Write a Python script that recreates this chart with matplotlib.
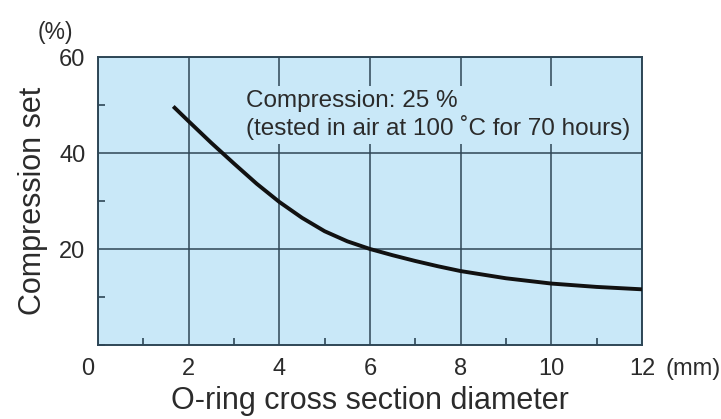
import matplotlib.pyplot as plt
from matplotlib.ticker import MultipleLocator
import matplotlib.transforms as mtransforms

# values
diameter = [1.66, 2.0, 2.5, 3.0, 3.5, 4.0, 4.5, 5.0, 5.5, 6.0, 6.5, 7.0, 7.5, 8.0, 9.0, 10.0, 11.0, 12.0]
comp_set = [49.7, 46.6, 42.1, 37.8, 33.6, 29.8, 26.5, 23.7, 21.6, 20.0, 18.7, 17.5, 16.4, 15.4, 13.9, 12.8, 12.1, 11.6]
x_ticks = [0, 2, 4, 6, 8, 10, 12]
y_ticks = [20, 40, 60]
note = "Compression: 25 %\n(tested in air at 100 \u02daC for 70 hours)"

bg = '#c9e8f8'
grid_col = '#2e4656'
txt_col = '#2b2b2b'
plt.rcParams['font.family'] = ['Liberation Sans', 'DejaVu Sans']

fig = plt.figure(figsize=(7.21, 4.19), dpi=100)
ax = fig.add_axes([98 / 721, 74 / 419, 544 / 721, 288 / 419])
ax.set_facecolor(bg)

ax.plot(diameter, comp_set, color='#111111', lw=2.8, solid_capstyle='butt',
        solid_joinstyle='round', zorder=4)

ax.set_xlim(0, 12)
ax.set_ylim(0, 60)
ax.set_xticks(x_ticks)
ax.set_xticklabels([str(v) for v in x_ticks])
ax.set_yticks(y_ticks)
ax.set_yticklabels([str(v) for v in y_ticks])
ax.xaxis.set_minor_locator(MultipleLocator(1))
ax.yaxis.set_minor_locator(MultipleLocator(10))
ax.tick_params(axis='both', which='major', length=0, labelsize=17, colors=txt_col, pad=9)
ax.tick_params(axis='both', which='minor', direction='in', length=5, width=1.2, color=grid_col)
ax.grid(True, which='major', color=grid_col, lw=1.1, zorder=1)
ax.set_axisbelow(True)
for s in ax.spines.values():
    s.set_color(grid_col)
    s.set_linewidth(1.4)

# the "0" sits a bit left of the origin
lab0 = ax.get_xticklabels()[0]
lab0.set_transform(lab0.get_transform() + mtransforms.ScaledTranslation(-10 / 100, 0, fig.dpi_scale_trans))

ax.annotate('(mm)', xy=(12, 0), xytext=(17, -9), textcoords='offset points',
            ha='left', va='top', fontsize=17, color=txt_col, annotation_clip=False)
ax.annotate('(%)', xy=(0, 60), xytext=(-31, 18), textcoords='offset points',
            ha='center', va='center', fontsize=16.5, color=txt_col, annotation_clip=False)

ax.text(3.27, 47.9, note, ha='left', va='center', fontsize=17.5, color=txt_col,
        linespacing=1.15, zorder=3,
        bbox=dict(facecolor=bg, edgecolor='none', pad=3))

ax.set_xlabel('O-ring cross section diameter', fontsize=22, color=txt_col, labelpad=5)
ax.set_ylabel('Compression set', fontsize=22, color=txt_col, labelpad=8)

fig.savefig('out.png', dpi=100)
